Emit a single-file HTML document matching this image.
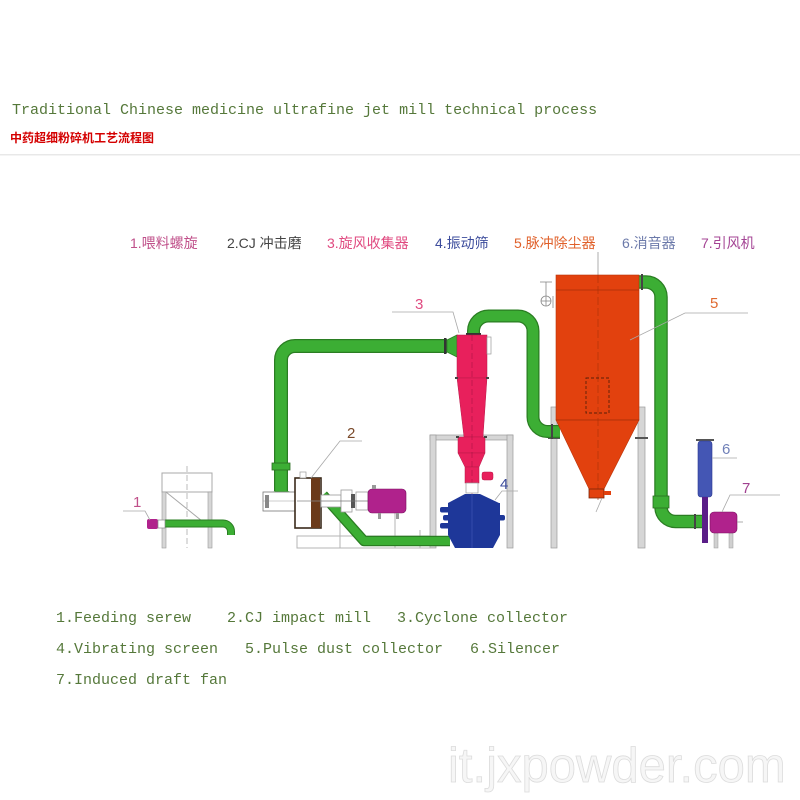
<!DOCTYPE html>
<html><head><meta charset="utf-8">
<style>
html,body{margin:0;padding:0;background:#fff;}
svg{display:block;}
</style></head>
<body>
<svg width="800" height="800" viewBox="0 0 800 800" xmlns="http://www.w3.org/2000/svg">
<rect width="800" height="800" fill="#fff"/>

<!-- Header -->
<text x="12" y="114" font-family="'Liberation Mono', monospace" font-size="15" fill="#55783a">Traditional Chinese medicine ultrafine jet mill technical process</text>
<text x="10" y="142" font-family="'Liberation Sans','Noto Sans CJK SC',sans-serif" font-size="12" font-weight="bold" fill="#d40000">中药超细粉碎机工艺流程图</text>
<rect x="0" y="154" width="800" height="1.5" fill="#e8e8e8"/>

<!-- Legend labels -->
<g font-family="'Liberation Sans','Noto Sans CJK SC',sans-serif" font-size="14">
<text x="130" y="248" fill="#c0508a">1.喂料螺旋</text>
<text x="227" y="248" fill="#444444">2.CJ 冲击磨</text>
<text x="327" y="248" fill="#e04a80">3.旋风收集器</text>
<text x="435" y="248" fill="#3c4c9c">4.振动筛</text>
<text x="514" y="248" fill="#e0602a">5.脉冲除尘器</text>
<text x="622" y="248" fill="#6c7aaa">6.消音器</text>
<text x="701" y="248" fill="#a44494">7.引风机</text>
</g>

<!-- collector top centerline -->
<line x1="598" y1="252" x2="598" y2="275" stroke="#999" stroke-width="0.8"/>

<!-- Feeding screw frame -->
<g stroke="#a8a8a8" stroke-width="1" fill="none">
<rect x="162" y="473" width="50" height="19"/>
<line x1="166" y1="492" x2="202" y2="521"/>
<line x1="187" y1="466" x2="187" y2="548" stroke-dasharray="6,3" stroke="#bbb"/>
</g>
<rect x="162" y="492" width="4" height="56" fill="#d6d6d6" stroke="#9a9a9a" stroke-width="0.6"/>
<rect x="208" y="492" width="4" height="56" fill="#d6d6d6" stroke="#9a9a9a" stroke-width="0.6"/>

<!-- Cyclone / screen frame -->
<g fill="#d6d6d6" stroke="#9a9a9a" stroke-width="0.7">
<rect x="430" y="435" width="83" height="5"/>
<rect x="430" y="435" width="6" height="113"/>
<rect x="507" y="435" width="6" height="113"/>
</g>

<!-- Collector legs -->
<g fill="#d6d6d6" stroke="#9a9a9a" stroke-width="0.7">
<rect x="551" y="407" width="6" height="141"/>
<rect x="638" y="407" width="7" height="141"/>
</g>
<rect x="548" y="437" width="12" height="2" fill="#555"/>
<rect x="635" y="437" width="13" height="2" fill="#555"/>

<!-- Mill base frame -->
<g stroke="#b4b4b4" stroke-width="1" fill="none">
<rect x="297" y="536" width="133" height="12"/>
<line x1="340" y1="513" x2="340" y2="548"/>
<line x1="395" y1="513" x2="395" y2="548"/>
<line x1="420" y1="530" x2="420" y2="548"/>
</g>

<!-- Fan legs -->
<rect x="714" y="533" width="4" height="15" fill="#d0d0d0" stroke="#999" stroke-width="0.5"/>
<rect x="729" y="533" width="4" height="15" fill="#d0d0d0" stroke="#999" stroke-width="0.5"/>

<!-- PIPES -->
<g fill="none" stroke-linecap="butt" stroke-linejoin="round">
  <!-- A: mill -> cyclone -->
  <path d="M281 491 V360 A14 14 0 0 1 295 346 H447" stroke="#2a7d22" stroke-width="14"/>
  <path d="M281 491 V360 A14 14 0 0 1 295 346 H447" stroke="#3cae34" stroke-width="11.5"/>
  <!-- B: cyclone -> collector -->
  <path d="M473.5 336 V331 A15 15 0 0 1 488.5 316 H518 A15 15 0 0 1 533 331 V417 A14.5 14.5 0 0 0 547.5 431.5 H560" stroke="#2a7d22" stroke-width="13"/>
  <path d="M473.5 336 V331 A15 15 0 0 1 488.5 316 H518 A15 15 0 0 1 533 331 V417 A14.5 14.5 0 0 0 547.5 431.5 H560" stroke="#3cae34" stroke-width="10.5"/>
  <!-- C: collector -> fan -->
  <path d="M639 282 H646 A15 15 0 0 1 661 297 V507 A14.5 14.5 0 0 0 675.5 521.5 H704" stroke="#2a7d22" stroke-width="13.5"/>
  <path d="M639 282 H646 A15 15 0 0 1 661 297 V507 A14.5 14.5 0 0 0 675.5 521.5 H704" stroke="#3cae34" stroke-width="11"/>
  <!-- D: feeding screw -->
  <path d="M165 523.5 H223 A8 8 0 0 1 231 531.5 V535" stroke="#2a7d22" stroke-width="8"/>
  <path d="M165 523.5 H223 A8 8 0 0 1 231 531.5 V535" stroke="#3cae34" stroke-width="6"/>
  <!-- E: mill -> screen -->
  <path d="M323 495 L364 541 H450" stroke="#2a7d22" stroke-width="10.5"/>
  <path d="M323 495 L364 541 H450" stroke="#3cae34" stroke-width="8"/>
</g>
<!-- pipe flanges -->
<rect x="272" y="463" width="18" height="7" fill="#3cae34" stroke="#2a6d20" stroke-width="0.8"/>
<rect x="444" y="338" width="2.5" height="16" fill="#333"/>
<polygon points="447,340 457,335 457,357 447,352" fill="#3cae34" stroke="#2a7d22" stroke-width="0.7"/>
<rect x="466" y="333" width="15" height="2.5" fill="#333"/>
<rect x="641" y="274" width="2" height="16" fill="#444"/>
<rect x="653" y="496" width="16" height="12" fill="#3cae34" stroke="#2a6d20" stroke-width="0.8"/>
<rect x="694" y="514" width="2" height="15" fill="#444"/>
<rect x="551" y="424" width="2" height="15" fill="#444"/>

<!-- DUST COLLECTOR (5) -->
<rect x="556" y="275" width="83" height="145" fill="#e2410e" stroke="#b8340a" stroke-width="0.6"/>
<polygon points="556,420 639,420 603,491 590,491" fill="#e2410e" stroke="#b8340a" stroke-width="0.6"/>
<line x1="556" y1="290" x2="639" y2="290" stroke="#a83008" stroke-width="0.8"/>
<line x1="556" y1="420" x2="639" y2="420" stroke="#a83008" stroke-width="0.8"/>
<line x1="598" y1="275" x2="598" y2="500" stroke="#a83008" stroke-width="0.6" stroke-dasharray="8,3"/>
<rect x="586" y="378" width="23" height="35" fill="none" stroke="#5a2008" stroke-width="0.9" stroke-dasharray="3,2"/>
<rect x="589" y="489" width="15" height="9" fill="#e2410e" stroke="#7a2508" stroke-width="0.8"/>
<rect x="604" y="491" width="7" height="4" fill="#e2410e"/>
<line x1="602" y1="498" x2="596" y2="512" stroke="#aaa" stroke-width="0.8"/>
<!-- valve -->
<g stroke="#888" stroke-width="0.8" fill="none">
<line x1="540" y1="282" x2="552" y2="282"/>
<line x1="546" y1="282" x2="546" y2="296"/>
<circle cx="546" cy="301" r="5"/>
<line x1="541" y1="301" x2="551" y2="301"/>
<line x1="546" y1="296" x2="546" y2="306"/>
<line x1="553" y1="296" x2="553" y2="308"/>
</g>

<!-- CYCLONE (3) -->
<g fill="#e8205c" stroke="#b81848" stroke-width="0.5">
<rect x="457" y="335" width="30" height="43"/>
<polygon points="457,378 487,378 483,437 464,437"/>
<rect x="458" y="437" width="27" height="16"/>
<polygon points="458,453 485,453 479,467 465,467"/>
<rect x="465" y="467" width="14" height="16"/>
<rect x="482" y="472" width="11" height="8" rx="2"/>
</g>
<rect x="487" y="337" width="4" height="17" fill="#fff" stroke="#999" stroke-width="0.7"/>
<line x1="472" y1="335" x2="472" y2="495" stroke="#a01040" stroke-width="0.5" stroke-dasharray="6,3"/>
<g fill="#444">
<rect x="455" y="377" width="3" height="2"/><rect x="486" y="377" width="3" height="2"/>
<rect x="456" y="436" width="3" height="2"/><rect x="484" y="436" width="3" height="2"/>
</g>
<rect x="466" y="483" width="12" height="10" fill="#fff" stroke="#999" stroke-width="0.7"/>

<!-- VIBRATING SCREEN (4) -->
<g fill="#1e3799">
<polygon points="465,494 480,494 499,503 448,503"/>
<polygon points="448,503 500,503 500,535 493,548 455,548 448,535"/>
<rect x="440" y="507" width="60" height="5.5" rx="2"/>
<rect x="443" y="515" width="62" height="5.5" rx="2"/>
<rect x="440" y="523" width="60" height="5.5" rx="2"/>
</g>
<line x1="472" y1="494" x2="472" y2="548" stroke="#4a60c0" stroke-width="0.5"/>

<!-- MILL (2) -->
<polygon points="275,491 288,491 293,493 270,493" fill="#3cae34"/>
<rect x="263" y="492" width="32" height="19" fill="#fff" stroke="#777" stroke-width="0.8"/>
<line x1="263" y1="501" x2="295" y2="501" stroke="#999" stroke-width="0.6"/>
<rect x="265" y="495" width="4" height="13" fill="#888"/>
<rect x="295" y="478" width="26" height="50" fill="#fff" stroke="#3a2a1a" stroke-width="1.6"/>
<rect x="311" y="478" width="9" height="50" fill="#6b3a1a"/>
<rect x="300" y="472" width="6" height="6" fill="#fff" stroke="#999" stroke-width="0.7"/>
<line x1="297" y1="501" x2="321" y2="501" stroke="#888" stroke-width="0.8"/>
<g stroke="#999" stroke-width="0.8" fill="#fff">
<rect x="321" y="495" width="20" height="12"/>
<rect x="341" y="490" width="11" height="22"/>
<rect x="356" y="492" width="12" height="18"/>
</g>
<rect x="351" y="494" width="4" height="14" fill="#555"/>
<line x1="321" y1="501" x2="368" y2="501" stroke="#777" stroke-width="0.8"/>
<rect x="368" y="489" width="38" height="24" rx="4" fill="#b0228c" stroke="#7a1060" stroke-width="0.6"/>
<rect x="372" y="485" width="4" height="4" fill="#999"/>
<rect x="378" y="513" width="3" height="6" fill="#999"/>
<rect x="396" y="513" width="3" height="6" fill="#999"/>

<!-- FEEDING SCREW (1) -->
<rect x="147" y="519" width="11" height="10" rx="2" fill="#b0228c"/>
<rect x="158" y="520" width="7" height="8" fill="#fff" stroke="#888" stroke-width="0.7"/>

<!-- SILENCER (6) -->
<rect x="696" y="439" width="18" height="2" fill="#555"/>
<rect x="698" y="441" width="14" height="56" rx="3" fill="#4456b4" stroke="#2a3890" stroke-width="0.6"/>
<rect x="702" y="497" width="6" height="46" fill="#5a1e88"/>
<!-- FAN (7) -->
<rect x="710" y="512" width="27" height="21" rx="4" fill="#b0228c" stroke="#7a1060" stroke-width="0.6"/>
<line x1="737" y1="522" x2="743" y2="522" stroke="#999" stroke-width="0.8"/>

<!-- Leaders and numbers -->
<g stroke="#a8a8a8" stroke-width="0.8" fill="none">
<polyline points="123,511 145,511 150,520"/>
<polyline points="362,441 340,441 311,478"/>
<polyline points="392,312 453,312 459,333"/>
<polyline points="518,491 502,491 495,500"/>
<polyline points="748,313 685,313 630,340"/>
<polyline points="737,458 712,458"/>
<polyline points="780,495 730,495 722,512"/>
</g>
<g font-family="'Liberation Sans',sans-serif" font-size="15">
<text x="133" y="507" fill="#c0508a">1</text>
<text x="347" y="438" fill="#7a4a2a">2</text>
<text x="415" y="309" fill="#e04a80">3</text>
<text x="500" y="489" fill="#3c4c9c">4</text>
<text x="710" y="308" fill="#e06a30">5</text>
<text x="722" y="454" fill="#7080b8">6</text>
<text x="742" y="493" fill="#a04090">7</text>
</g>

<!-- Bottom legend -->
<g font-family="'Liberation Mono', monospace" font-size="15" fill="#55783a">
<text x="56" y="622">1.Feeding serew</text>
<text x="227" y="622">2.CJ impact mill</text>
<text x="397" y="622">3.Cyclone collector</text>
<text x="56" y="653">4.Vibrating screen</text>
<text x="245" y="653">5.Pulse dust collector</text>
<text x="470" y="653">6.Silencer</text>
<text x="56" y="684">7.Induced draft fan</text>
</g>

<!-- Watermark -->
<text x="448" y="782" font-family="'Liberation Sans',sans-serif" font-size="49" fill="#f6f6f6" stroke="#dcdcdc" stroke-width="0.8">it.jxpowder.com</text>
</svg>
</body></html>
